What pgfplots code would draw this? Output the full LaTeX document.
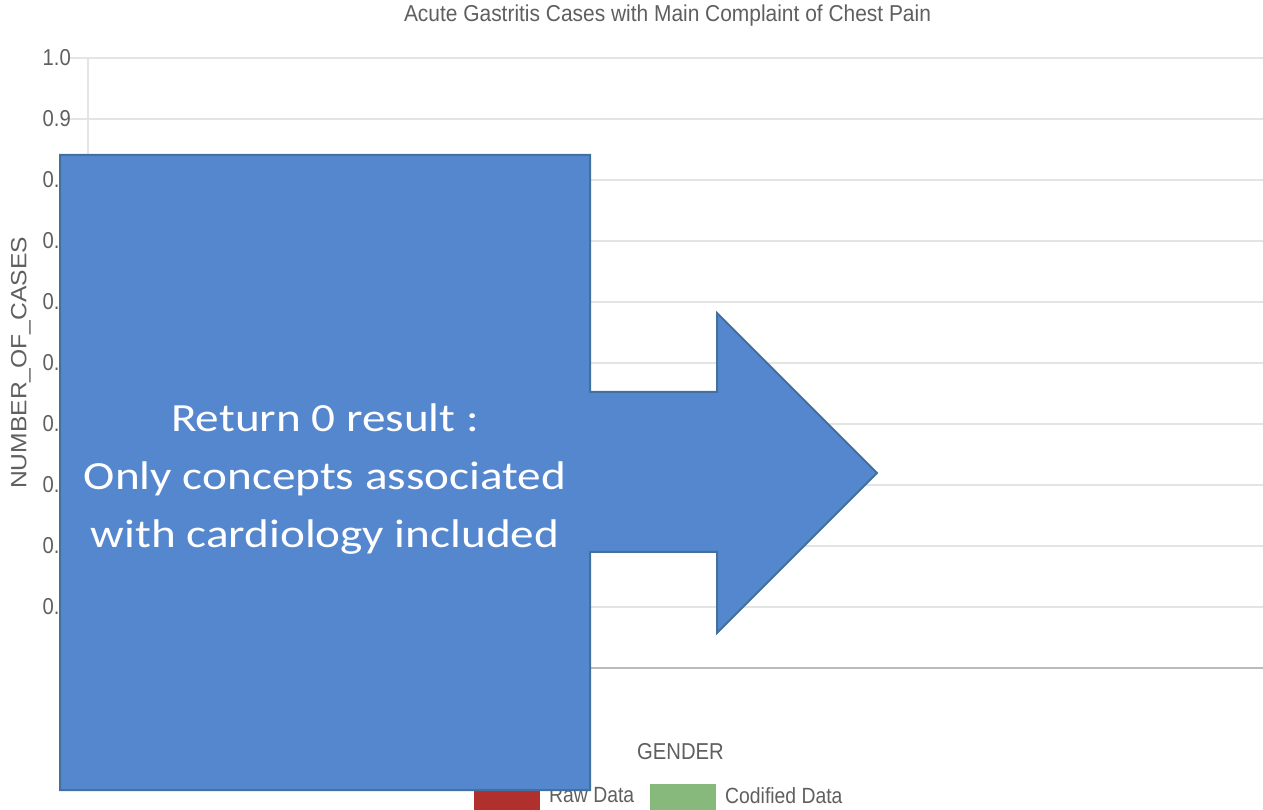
\documentclass[border=0pt]{standalone}
\usepackage{fontspec}
\setmainfont{Liberation Sans}
\newfontfamily\chartfont[FakeStretch=0.88]{Liberation Sans}
\newfontfamily\titlefont[FakeStretch=0.91]{Liberation Sans}
\newfontfamily\ylabfont[FakeStretch=1.12]{Liberation Sans}
\newfontfamily\calloutfont[FakeStretch=1.18]{Carlito}
\usepackage{pgfplots}
\pgfplotsset{compat=1.18}
\definecolor{gridgray}{HTML}{E4E4E4}
\definecolor{axisgray}{HTML}{BBBBBB}
\definecolor{textgray}{HTML}{5F5F5F}
\definecolor{rawred}{HTML}{B0302E}
\definecolor{codgreen}{HTML}{88B97C}
\definecolor{calloutfill}{HTML}{5587CF}
\definecolor{calloutdraw}{HTML}{41719C}
\begin{document}
\begin{tikzpicture}[x=1pt,y=1pt]
\useasboundingbox (0,0) rectangle (1263,809);
\begin{axis}[
  at={(88pt,141pt)}, anchor=south west,
  scale only axis, width=1175pt, height=610pt,
  xmin=0, xmax=1, ymin=0, ymax=1,
  xtick=\empty,
  ytick={0.1,0.2,0.3,0.4,0.5,0.6,0.7,0.8,0.9,1.0},
  yticklabels={0.1,0.2,0.3,0.4,0.5,0.6,0.7,0.8,0.9,1.0},
  ymajorgrids, grid style={gridgray, line width=1.5pt},
  axis x line*=bottom, axis y line*=left,
  x axis line style={axisgray, line width=2pt, -},
  y axis line style={gridgray, line width=1.5pt, -},
  tick align=outside, major tick length=18pt,
  tick style={gridgray, line width=1.5pt},
  yticklabel style={font=\chartfont\fontsize{23}{23}\selectfont, text=textgray, inner xsep=-1pt},
  title={Acute Gastritis Cases with Main Complaint of Chest Pain},
  title style={font=\titlefont\fontsize{23}{23}\selectfont, text=textgray, at={(rel axis cs:0.5,1)}, anchor=base, yshift=30pt, xshift=-8pt},
  ylabel={NUMBER\_OF\_CASES},
  ylabel style={font=\ylabfont\fontsize{22}{22}\selectfont, text=textgray, at={(rel axis cs:0,0.5)}, anchor=center, yshift=67pt},
  xlabel={GENDER},
  xlabel style={font=\chartfont\fontsize{23}{23}\selectfont, text=textgray, at={(rel axis cs:0.5,0)}, anchor=base, xshift=5pt, yshift=-91pt},
  legend columns=2,
  legend style={at={(rel axis cs:0.3285,-0.19)}, anchor=north west, draw=none, fill=none, inner sep=0pt,
    font=\chartfont\fontsize{22}{22}\selectfont, text=textgray,
    /tikz/every odd column/.append style={column sep=7pt},
    /tikz/every even column/.append style={column sep=14pt}},
  legend image code/.code={\fill[#1, draw=none] (0pt,-14pt) rectangle (66pt,12pt);},
]
\addlegendimage{fill=rawred, draw=none}
\addlegendentry{Raw Data}
\addlegendimage{fill=codgreen, draw=none}
\addlegendentry{Codified Data}
\end{axis}
\fill[calloutfill, draw=calloutdraw, line width=2pt, line join=miter]
  (60,654) -- (590,654) -- (590,417) -- (717,417) -- (717,496) -- (877,336)
  -- (717,176) -- (717,257) -- (590,257) -- (590,19) -- (60,19) -- cycle;
\node[white, font=\calloutfont\fontsize{40}{40}\selectfont, anchor=base] at (325,377) {Return 0 result :};
\node[white, font=\calloutfont\fontsize{40}{40}\selectfont, anchor=base] at (325,319) {Only concepts associated};
\node[white, font=\calloutfont\fontsize{40}{40}\selectfont, anchor=base] at (325,261) {with cardiology included};
\end{tikzpicture}
\end{document}
